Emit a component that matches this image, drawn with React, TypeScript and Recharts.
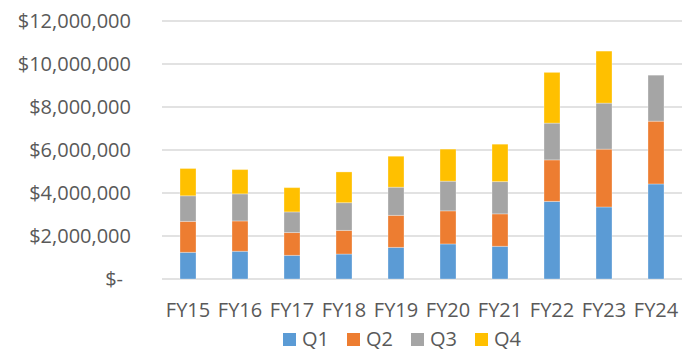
import { BarChart, Bar, XAxis, YAxis, CartesianGrid, Legend } from "recharts";

const years = ["FY15", "FY16", "FY17", "FY18", "FY19", "FY20", "FY21", "FY22", "FY23", "FY24"];
const q1 = [1240000, 1290000, 1100000, 1160000, 1470000, 1630000, 1520000, 3610000, 3350000, 4420000];
const q2 = [1440000, 1410000, 1060000, 1100000, 1490000, 1540000, 1510000, 1930000, 2690000, 2920000];
const q3 = [1190000, 1260000, 960000, 1290000, 1310000, 1380000, 1500000, 1710000, 2140000, 2140000];
const q4 = [1270000, 1130000, 1130000, 1430000, 1440000, 1490000, 1740000, 2360000, 2420000, 0];
const yTicks = [0, 2000000, 4000000, 6000000, 8000000, 10000000, 12000000];

const series = [
  { key: "Q1", values: q1, color: "#5B9BD5" },
  { key: "Q2", values: q2, color: "#ED7D31" },
  { key: "Q3", values: q3, color: "#A5A5A5" },
  { key: "Q4", values: q4, color: "#FFC000" },
];

const data = years.map((fy, i) => {
  const row: Record<string, string | number> = { fy };
  series.forEach((s) => (row[s.key] = s.values[i]));
  return row;
});

const FONT = "'Open Sans', sans-serif";
const TEXT = "#595959";

// eslint-disable-next-line @typescript-eslint/no-explicit-any
function MoneyTick({ x, y, payload }: any) {
  const v = payload.value as number;
  const label = v === 0 ? "$-" : "$" + v.toLocaleString("en-US");
  return (
    <text x={v === 0 ? x - 8 : x} y={y} dy="0.355em" textAnchor="end" fill={TEXT} fontSize={20} fontFamily={FONT}>
      {label}
    </text>
  );
}

function QuarterLegend() {
  return (
    <div style={{ display: "flex", paddingLeft: 283, fontFamily: FONT, fontSize: 20, color: TEXT, lineHeight: "26px", height: 26 }}>
      {series.map((s) => (
        <div key={s.key} style={{ display: "flex", alignItems: "center", marginRight: 18 }}>
          <span style={{ width: 13, height: 13, background: s.color, marginRight: 6, display: "inline-block" }} />
          <span>{s.key}</span>
        </div>
      ))}
    </div>
  );
}

export default function App() {
  return (
    <div style={{ position: "absolute", left: 0, top: 0, width: 694, height: 352, background: "#fff" }}>
      <BarChart width={694} height={352} data={data} margin={{ top: 21, right: 12, bottom: 0, left: 0 }}>
        <CartesianGrid vertical={false} stroke="#D9D9D9" strokeWidth={1.3} />
        <XAxis
          dataKey="fy"
          axisLine={false}
          tickLine={false}
          tickSize={0}
          tickMargin={24}
          height={47}
          interval={0}
          tick={{ fill: TEXT, fontSize: 20, fontFamily: FONT }}
        />
        <YAxis
          domain={[0, 12000000]}
          ticks={yTicks}
          axisLine={false}
          tickLine={false}
          tickSize={0}
          tickMargin={31}
          width={162}
          tick={<MoneyTick />}
        />
        <Legend verticalAlign="bottom" height={26} wrapperStyle={{ left: 0, width: 694, bottom: 0 }} content={<QuarterLegend />} />
        {series.map((s) => (
          <Bar
            key={s.key}
            dataKey={s.key}
            stackId="fy"
            fill={s.color}
            barSize={16}
            stroke="#ffffff"
            strokeOpacity={0.5}
            strokeWidth={0.6}
            isAnimationActive={false}
          />
        ))}
      </BarChart>
    </div>
  );
}
